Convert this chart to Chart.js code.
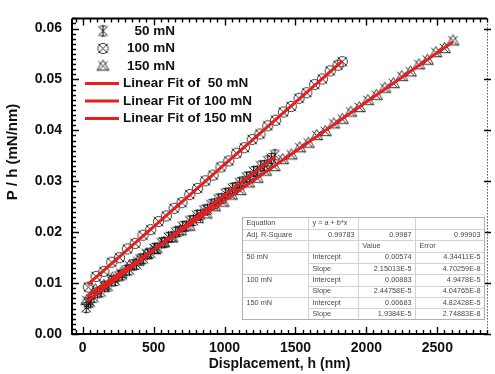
<!DOCTYPE html>
<html>
<head>
<meta charset="utf-8">
<script src="https://cdn.jsdelivr.net/npm/chart.js@4.4.3/dist/chart.umd.min.js"></script>
<style>
  html, body { margin: 0; padding: 0; background: #fff; }
  #wrap { width: 495px; height: 374px; }
</style>
</head>
<body>
<div id="wrap"><canvas id="c" width="495" height="374"></canvas></div>
<script>
// --- data ---
const x50 = [25, 40, 55, 80, 105, 130, 155, 180, 205, 230, 255, 280, 305, 330, 355, 380, 405, 430, 455, 480,
  505, 530, 555, 580, 605, 630, 655, 680, 705, 730, 755, 780, 805, 830, 855, 880, 905, 930, 955, 980,
  1005, 1030, 1055, 1080, 1105, 1130, 1155, 1180, 1205, 1230, 1255, 1280, 1305, 1330, 1355];
const y50 = [0.0052, 0.0061, 0.0063, 0.0072, 0.0081, 0.0083, 0.0093, 0.0094, 0.0104, 0.0105, 0.0114, 0.0116, 0.0125, 0.0126, 0.0136, 0.0137, 0.0147, 0.0148, 0.0157, 0.0159,
  0.0168, 0.0169, 0.0179, 0.0180, 0.0190, 0.0191, 0.0200, 0.0202, 0.0211, 0.0212, 0.0222, 0.0223, 0.0233, 0.0234, 0.0243, 0.0245, 0.0254, 0.0256, 0.0265, 0.0266,
  0.0276, 0.0277, 0.0286, 0.0288, 0.0297, 0.0299, 0.0308, 0.0309, 0.0319, 0.0320, 0.0330, 0.0331, 0.0340, 0.0345, 0.0352];

const x100 = [40, 95, 150, 205, 260, 315, 370, 425, 480, 535, 590, 645, 700, 755, 810, 865, 920, 975, 1030, 1085,
  1140, 1195, 1250, 1305, 1360, 1415, 1470, 1525, 1580, 1635, 1690, 1745, 1800, 1830];
const y100 = [0.0092, 0.0113, 0.0123, 0.0141, 0.0150, 0.0167, 0.0178, 0.0194, 0.0205, 0.0221, 0.0232, 0.0247, 0.0258, 0.0274, 0.0286, 0.0301, 0.0312, 0.0328, 0.0340, 0.0355,
  0.0366, 0.0382, 0.0393, 0.0409, 0.0420, 0.0436, 0.0447, 0.0463, 0.0474, 0.0490, 0.0501, 0.0517, 0.0528, 0.0535];

const x150 = [30, 90, 150, 210, 270, 330, 390, 450, 510, 570, 630, 690, 750, 810, 870, 930, 990, 1050, 1110, 1170,
  1230, 1290, 1350, 1410, 1470, 1530, 1590, 1650, 1710, 1770, 1830, 1890, 1950, 2010, 2070, 2130, 2190, 2250, 2310, 2370,
  2430, 2490, 2550, 2610];
const y150 = [0.0066, 0.0087, 0.0096, 0.0110, 0.0119, 0.0134, 0.0143, 0.0157, 0.0166, 0.0180, 0.0189, 0.0203, 0.0212, 0.0227, 0.0236, 0.0250, 0.0259, 0.0273, 0.0282, 0.0297,
  0.0306, 0.0320, 0.0329, 0.0343, 0.0352, 0.0366, 0.0375, 0.0390, 0.0398, 0.0413, 0.0422, 0.0436, 0.0445, 0.0459, 0.0469, 0.0483, 0.0492, 0.0506, 0.0515, 0.0529,
  0.0538, 0.0553, 0.0561, 0.0576];

// linear fit end points
const fit50X = [30, 1355],  fit50Y = [0.00639, 0.03487];
const fit100X = [35, 1830], fit100Y = [0.00969, 0.05362];
const fit150X = [30, 2610], fit150Y = [0.00741, 0.05742];

const seriesNames = ['50 mN', '100 mN', '150 mN'];
const fitNames = ['Linear Fit of  50 mN', 'Linear Fit of 100 mN', 'Linear Fit of 150 mN'];

const xTicks = [0, 500, 1000, 1500, 2000, 2500];
const yTicks = [0, 0.01, 0.02, 0.03, 0.04, 0.05, 0.06];

// inset table
const tblCol1 = ['Equation', 'Adj. R-Square', '', '50 mN', '', '100 mN', '', '150 mN', ''];
const tblCol2 = ['y = a + b*x', '0.99783', '', 'Intercept', 'Slope', 'Intercept', 'Slope', 'Intercept', 'Slope'];
const tblCol3 = ['', '0.9987', 'Value', '0.00574', '2.15013E-5', '0.00883', '2.44758E-5', '0.00683', '1.9384E-5'];
const tblCol4 = ['', '0.99903', 'Error', '4.34411E-5', '4.70259E-8', '4.9478E-5', '4.04765E-8', '4.82428E-5', '2.74883E-8'];

const RED = '#e81e1e';
const FONT = '"Liberation Sans", Arial, sans-serif';

function pts(xs, ys){ return xs.map((x, i) => ({ x: x, y: ys[i] })); }

// Origin-like symbols: crossed star / circle / triangle
function marker(kind){
  const s = 15, c = document.createElement('canvas');
  c.width = c.height = s;
  const g = c.getContext('2d');
  const m = s / 2, r = 6;
  g.strokeStyle = kind === 'star' ? '#111' : '#2e2e2e';
  g.lineWidth = 1;
  g.beginPath();
  g.moveTo(m - r * 0.8, m - r * 0.8); g.lineTo(m + r * 0.8, m + r * 0.8);
  g.moveTo(m + r * 0.8, m - r * 0.8); g.lineTo(m - r * 0.8, m + r * 0.8);
  if (kind === 'star') {
    g.moveTo(m, m - r); g.lineTo(m, m + r);
    g.moveTo(m - r * 0.5, m - r * 0.8); g.lineTo(m + r * 0.5, m - r * 0.8);
    g.moveTo(m - r * 0.5, m + r * 0.8); g.lineTo(m + r * 0.5, m + r * 0.8);
  }
  if (kind === 'circle') { g.moveTo(m + r * 0.85, m); g.arc(m, m, r * 0.85, 0, Math.PI * 2); }
  if (kind === 'tri') { g.moveTo(m, m - r); g.lineTo(m + r, m + r * 0.7); g.lineTo(m - r, m + r * 0.7); g.closePath(); }
  g.stroke();
  return c;
}
const markers = [marker('star'), marker('circle'), marker('tri')];

// frame, inward ticks, y title
const axesPlugin = {
  id: 'axes',
  afterDatasetsDraw(chart){
    const { ctx, chartArea: a, scales: { x, y } } = chart;
    ctx.save();
    ctx.strokeStyle = '#000';
    ctx.lineWidth = 1.4;
    ctx.beginPath();
    for (let v = -50; v <= 2850; v += 50) {
      const px = Math.round(x.getPixelForValue(v)) + 0.5;
      const len = v % 500 === 0 ? 7 : 4;
      ctx.moveTo(px, a.bottom); ctx.lineTo(px, a.bottom - len);
      ctx.moveTo(px, a.top); ctx.lineTo(px, a.top + len);
    }
    for (let i = 0; i <= 62; i++) {
      const py = Math.round(y.getPixelForValue(i / 1000)) + 0.5;
      const len = i % 10 === 0 ? 7 : 4;
      ctx.moveTo(a.left, py); ctx.lineTo(a.left + len, py);
      if (i % 10 === 0) { ctx.moveTo(a.right - 3, py); ctx.lineTo(a.right + 4, py); }
    }
    ctx.stroke();
    ctx.lineWidth = 2;
    ctx.beginPath();
    ctx.moveTo(a.left, a.top); ctx.lineTo(a.right, a.top);
    ctx.moveTo(a.left, a.top); ctx.lineTo(a.left, a.bottom); ctx.lineTo(a.right, a.bottom);
    ctx.stroke();
    ctx.lineWidth = 1;
    ctx.setLineDash([1, 2]);
    ctx.beginPath();
    ctx.moveTo(a.right + 0.5, a.top); ctx.lineTo(a.right + 0.5, a.bottom);
    ctx.stroke();
    ctx.setLineDash([]);
    // y title
    ctx.translate(13, 152);
    ctx.rotate(-Math.PI / 2);
    ctx.fillStyle = '#111';
    ctx.font = 'bold 15px ' + FONT;
    ctx.textAlign = 'center';
    ctx.textBaseline = 'middle';
    ctx.fillText('P / h (mN/nm)', 0, 0);
    ctx.restore();
  }
};

// legend in top-left corner
const legendPlugin = {
  id: 'legendBox',
  afterDraw(chart){
    const ctx = chart.ctx;
    ctx.save();
    ctx.fillStyle = '#111';
    ctx.font = 'bold 13.5px ' + FONT;
    ctx.textBaseline = 'middle';
    const rowsY = [31, 48.5, 66];
    seriesNames.forEach((n, i) => {
      ctx.drawImage(markers[i], 103 - 7.5, rowsY[i] - 7.5);
      ctx.textAlign = 'right';
      ctx.fillText(n, 175, rowsY[i]);
    });
    const fitY = [83.5, 101, 118.5];
    fitNames.forEach((n, i) => {
      ctx.strokeStyle = RED; ctx.lineWidth = 3;
      ctx.beginPath(); ctx.moveTo(85, fitY[i]); ctx.lineTo(119, fitY[i]); ctx.stroke();
      ctx.textAlign = 'left';
      ctx.fillText(n, 123, fitY[i]);
    });
    ctx.restore();
  }
};

// fit result table
const tablePlugin = {
  id: 'fitTable',
  afterDraw(chart){
    const ctx = chart.ctx;
    const L = 242.5, R = 484.5, T = 217.5, B = 319.5;
    const cols = [L, 308.5, 358.5, 415.5, R];
    const rh = (B - T) / 9;
    ctx.save();
    ctx.fillStyle = '#fff';
    ctx.fillRect(L, T, R - L, B - T);
    ctx.strokeStyle = '#d2d2d2';
    ctx.lineWidth = 1;
    ctx.beginPath();
    for (let r = 1; r < 9; r++) {
      const yy = Math.round(T + r * rh) + 0.5;
      const inGroup = r === 4 || r === 6 || r === 8;
      ctx.moveTo(inGroup ? cols[1] : L, yy); ctx.lineTo(R, yy);
    }
    for (let c = 1; c < 4; c++) { ctx.moveTo(cols[c], T); ctx.lineTo(cols[c], B); }
    ctx.stroke();
    ctx.strokeStyle = '#b0b0b0';
    ctx.strokeRect(L, T, R - L, B - T);
    ctx.fillStyle = '#4a4a4a';
    ctx.font = '7.3px ' + FONT;
    ctx.textBaseline = 'middle';
    const colsTxt = [tblCol1, tblCol2, tblCol3, tblCol4];
    for (let r = 0; r < 9; r++) {
      const yy = T + (r + 0.5) * rh;
      colsTxt.forEach((col, c) => {
        const t = col[r];
        if (!t) return;
        if (/^[\d.]/.test(t) && c > 0) {
          ctx.textAlign = 'right'; ctx.fillText(t, cols[c + 1] - 4, yy);
        } else {
          ctx.textAlign = 'left'; ctx.fillText(t, cols[c] + 4, yy);
        }
      });
    }
    ctx.restore();
  }
};

function scatterSet(i, xs, ys){
  return { label: seriesNames[i], data: pts(xs, ys), pointStyle: markers[i], pointRadius: 7,
           showLine: false, order: 2 };
}
function fitSet(i, xs, ys){
  return { label: fitNames[i], data: pts(xs, ys), showLine: true, borderColor: RED, borderWidth: 3,
           pointRadius: 0, fill: false, order: 0 };
}

new Chart(document.getElementById('c').getContext('2d'), {
  type: 'scatter',
  data: {
    datasets: [
      scatterSet(0, x50, y50), scatterSet(1, x100, y100), scatterSet(2, x150, y150),
      fitSet(0, fit50X, fit50Y), fitSet(1, fit100X, fit100Y), fitSet(2, fit150X, fit150Y)
    ]
  },
  options: {
    responsive: false,
    animation: false,
    devicePixelRatio: 1,
    layout: { padding: { top: 13, right: 5, left: 0, bottom: 0 } },
    plugins: { legend: { display: false }, tooltip: { enabled: false } },
    scales: {
      x: {
        type: 'linear', min: -75, max: 2850,
        grid: { display: false, drawTicks: false }, border: { display: false },
        afterBuildTicks: s => { s.ticks = xTicks.map(v => ({ value: v })); },
        afterFit: s => { s.height = 40; },
        ticks: { padding: 6, color: '#111', font: { family: FONT, size: 14, weight: 'bold' }, maxRotation: 0,
                 callback: v => String(v) },
        title: { display: true, text: 'Displacement, h (nm)', color: '#111',
                 font: { family: FONT, size: 14, weight: 'bold' }, padding: { top: 0, bottom: 1 } }
      },
      y: {
        type: 'linear', min: 0, max: 0.062,
        grid: { display: false, drawTicks: false }, border: { display: false },
        afterBuildTicks: s => { s.ticks = yTicks.map(v => ({ value: v })); },
        afterFit: s => { s.width = 72; },
        ticks: { padding: 10, color: '#111', font: { family: FONT, size: 14, weight: 'bold' },
                 callback: v => v.toFixed(2) }
      }
    }
  },
  plugins: [axesPlugin, tablePlugin, legendPlugin]
});
</script>
</body>
</html>
